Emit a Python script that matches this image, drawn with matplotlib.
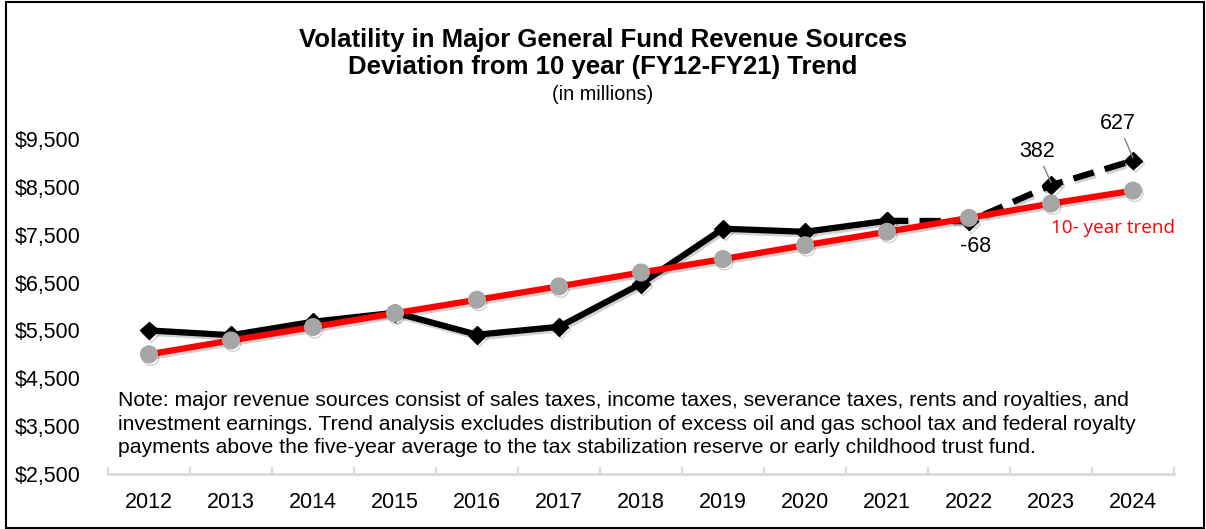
import matplotlib
matplotlib.use("Agg")
import matplotlib.pyplot as plt
import matplotlib.patheffects as pe
from matplotlib.patches import Rectangle

years = ["2012", "2013", "2014", "2015", "2016", "2017", "2018",
         "2019", "2020", "2021", "2022", "2023", "2024"]
actual_solid = [5500, 5400, 5680, 5870, 5410, 5575, 6475, 7625, 7560, 7790]
actual_proj = [7790, 7782, 8532, 9047]          # 2021 .. 2024
trend = [5000, 5290, 5570, 5860, 6140, 6420, 6710, 6990, 7280, 7560, 7850, 8150, 8420]
deviation_labels = ["-68", "382", "627"]          # 2022, 2023, 2024
yticks = [2500, 3500, 4500, 5500, 6500, 7500, 8500, 9500]

plt.rcParams['font.family'] = ['Liberation Sans', 'DejaVu Sans']

fig = plt.figure(figsize=(12.06, 5.29), dpi=100)
ax = fig.add_axes([108/1206, 1 - 474/529, (1174-108)/1206, (474-115)/529])

x = list(range(len(years)))
shadow = [pe.SimpleLineShadow(offset=(1.2, -1.8), shadow_color='black', alpha=0.18, rho=0.3), pe.Normal()]

ax.plot(x[:10], actual_solid, color='black', lw=4.5, marker='D', markersize=9,
        markerfacecolor='black', markeredgecolor='black', solid_joinstyle='miter',
        path_effects=shadow, zorder=2)
ax.plot(x[9:], actual_proj, color='black', lw=4.5, ls=(0, (3.4, 1.8)), marker='D', markersize=9,
        markerfacecolor='black', markeredgecolor='black', path_effects=shadow, zorder=2)
ax.plot(x, trend, color='#FF0000', lw=4.5, marker='o', markersize=12,
        markerfacecolor='#A6A6A6', markeredgecolor='#A6A6A6', path_effects=shadow, zorder=3)

# annotations
ax.text(10.08, actual_proj[1] - 520, deviation_labels[0], fontsize=15.5, ha='center', va='center')
ax.annotate(deviation_labels[1], xy=(11, actual_proj[2] + 60), xytext=(10.83, actual_proj[2] + 700),
            fontsize=15.5, ha='center', va='center',
            arrowprops=dict(arrowstyle='-', color='#808080', lw=1, shrinkA=1, shrinkB=0))
ax.annotate(deviation_labels[2], xy=(12, actual_proj[3] + 60), xytext=(11.82, actual_proj[3] + 770),
            fontsize=15.5, ha='center', va='center',
            arrowprops=dict(arrowstyle='-', color='#808080', lw=1, shrinkA=1, shrinkB=0))
ax.text(11.0, 7630, "10- year trend", color='#FF0000', fontsize=13.6, family=['Open Sans', 'DejaVu Sans'],
        ha='left', va='center')

note = ("Note: major revenue sources consist of sales taxes, income taxes, severance taxes, rents and royalties, and\n"
        "investment earnings. Trend analysis excludes distribution of excess oil and gas school tax and federal royalty\n"
        "payments above the five-year average to the tax stabilization reserve or early childhood trust fund.")
ax.text(118/1206, 1 - 424/529, note, transform=fig.transFigure, fontsize=15.2, ha='left', va='center',
        linespacing=1.32)

ax.set_xlim(-0.5, 12.5)
ax.set_ylim(2500, 10000)
ax.set_yticks(yticks)
ax.set_yticklabels([f"${v:,}" for v in yticks], fontsize=15.5)
ax.set_xticks(x)
ax.set_xticklabels(years, fontsize=15.5)
ax.tick_params(axis='y', length=0, pad=20)
ax.tick_params(axis='x', length=0, pad=13)
ax.set_xticks([i - 0.5 for i in range(len(years) + 1)], minor=True)
ax.tick_params(axis='x', which='minor', direction='in', length=5, color='#D9D9D9', width=1.5)
for s in ['top', 'right', 'left']:
    ax.spines[s].set_visible(False)
ax.spines['bottom'].set_color('#D9D9D9')
ax.spines['bottom'].set_linewidth(2)

fig.text(0.5, 1 - 40/529, "Volatility in Major General Fund Revenue Sources", fontsize=18.5,
         fontweight='bold', ha='center', va='center')
fig.text(0.5, 1 - 67/529, "Deviation from 10 year (FY12-FY21) Trend", fontsize=18.5,
         fontweight='bold', ha='center', va='center')
fig.text(0.5, 1 - 95/529, "(in millions)", fontsize=14.3, ha='center', va='center')

fig.patches.append(Rectangle((6/1206, 1/529), 1198/1206, 526/529, transform=fig.transFigure,
                             fill=False, edgecolor='black', lw=1.5))

fig.savefig("out.png", dpi=100)
